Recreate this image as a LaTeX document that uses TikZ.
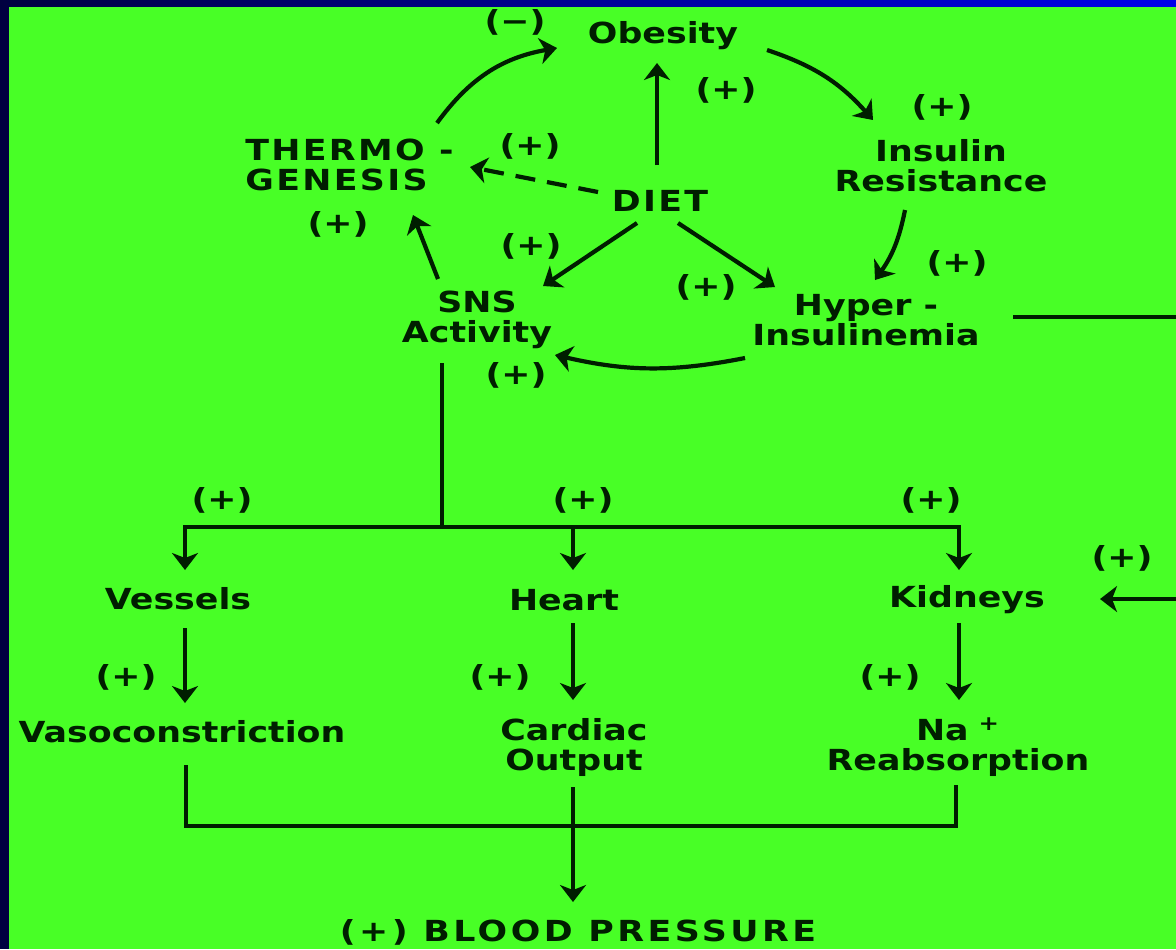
\documentclass[tikz,border=0pt]{standalone}
\usepackage{fontspec}
\setmainfont{DejaVu Sans}[FakeStretch=1.2]
\usetikzlibrary{arrows.meta,calc}
\definecolor{bggreen}{RGB}{72,255,38}
\definecolor{navy}{RGB}{0,0,64}
\definecolor{topblue}{RGB}{0,0,235}
\definecolor{ink}{RGB}{0,30,0}
\begin{document}
\begin{tikzpicture}[x=0.5pt,y=-0.5pt,
  txt/.style={font=\fontsize{14.5pt}{15pt}\selectfont\bfseries, text=ink, inner sep=0pt, align=center},
  lbl/.style={txt},
  caps/.style={txt, font=\fontsize{14.5pt}{15pt}\selectfont\bfseries\addfontfeature{LetterSpace=8}},
  conn/.style={draw=ink, line width=2.1pt},
  arr/.style={conn, -{Stealth[length=8.5pt,width=13pt,inset=2.5pt]}},
]
\useasboundingbox (0,0) rectangle (1176,949);
\fill[bggreen] (0,0) rectangle (1176,949);
\fill[navy] (0,0) rectangle (9,949);
\shade[left color=navy, right color=topblue] (0,0) rectangle (1176,6);

% nodes
\node[txt] (obesity) at (663,36) {Obesity};
\node[lbl] (minus) at (515,22) {(−)};
\node[caps, align=left, anchor=west] (thermo) at (245,165) {THERMO -\\GENESIS};
\node[lbl] (pT) at (530,146) {(+)};
\node[lbl] (pG) at (338,224) {(+)};
\node[caps] (diet) at (660,201) {DIET};
\node[lbl] (pO) at (726,90) {(+)};
\node[lbl] (pI) at (942,107) {(+)};
\node[txt] (insulin) at (941,166) {Insulin\\Resistance};
\node[lbl] (pH) at (957,263) {(+)};
\node[txt] (hyper) at (866,320) {Hyper -\\Insulinemia};
\node[lbl] (pDS) at (531,246) {(+)};
\node[lbl] (pDH) at (706,287) {(+)};
\node[txt] (sns) at (477,320) {SNS\\Activity};
\node[lbl] (pHS) at (516,375) {(+)};
\node[lbl] (pV) at (222,500) {(+)};
\node[lbl] (pHe) at (583,500) {(+)};
\node[lbl] (pK) at (931,500) {(+)};
\node[lbl] (pR) at (1122,558) {(+)};
\node[txt] (vessels) at (178,599) {Vessels};
\node[txt] (heart) at (564,600) {Heart};
\node[txt] (kidneys) at (967,600) {Kidneys};
\node[lbl] (pVC) at (126,677) {(+)};
\node[lbl] (pCO) at (500,677) {(+)};
\node[lbl] (pNa) at (890,677) {(+)};
\node[txt] (vaso) at (182,732) {Vasoconstriction};
\node[txt] (cardiac) at (574,747) {Cardiac\\Output};
\node[txt] (reabs) at (958,747) {Na\hspace{5pt}\textsuperscript{+}\\Reabsorption};
\node[txt, font=\fontsize{14.5pt}{15pt}\selectfont\bfseries\addfontfeature{LetterSpace=12}, anchor=base] (bp) at (578,941) {(+) BLOOD PRESSURE};

% upper connectors
\draw[arr] ($(thermo.west)+(192,-42)$) to[bend left=22] ($(obesity.center)+(-106,12)$);
\draw[arr] ($(diet.center)+(-3,-36)$) -- ($(obesity.center)+(-6,27)$);
\draw[arr, dash pattern=on 10pt off 6pt] ($(diet.center)+(-62,-9)$) -- ($(thermo.west)+(225,2)$);
\draw[arr] ($(sns.center)+(-39,-41)$) -- ($(thermo.west)+(168,50)$);
\draw[arr] ($(diet.center)+(-23,22)$) -- ($(sns.center)+(66,-34)$);
\draw[arr] ($(diet.center)+(18,22)$) -- ($(hyper.center)+(-91,-33)$);
\draw[arr] ($(obesity.center)+(104,14)$) to[bend left=15] ($(insulin.center)+(-68,-46)$);
\draw[arr] ($(insulin.center)+(-36,44)$) to[bend left=12] ($(hyper.center)+(9,-40)$);
\draw[arr] ($(hyper.center)+(-121,38)$) to[bend left=12] ($(sns.center)+(78,35)$);
\draw[arr] ($(hyper.center)+(147,-3)$) -- ++(180,0) |- ($(kidneys.center)+(133,-1)$);

% lower tree
\draw[conn] ($(sns.center)+(-35,43)$) -- ++(0,164) coordinate (j);
\draw[arr] (j) -| ($(vessels.center)+(7,-29)$);
\draw[arr] (j) -| ($(heart.center)+(9,-30)$);
\draw[arr] (j) -| ($(kidneys.center)+(-8,-30)$);
\draw[arr] ($(vessels.center)+(7,29)$) -- ($(vaso.center)+(3,-29)$);
\draw[arr] ($(heart.center)+(9,23)$) -- ($(cardiac.center)+(-1,-47)$);
\draw[arr] ($(kidneys.center)+(-8,23)$) -- ($(reabs.center)+(1,-47)$);
\draw[conn] ($(vaso.center)+(4,33)$) -- ++(0,61) -| ($(reabs.center)+(-2,38)$);
\draw[arr] ($(cardiac.center)+(-1,40)$) -- ($(bp.base)+(-5,-39)$);
\end{tikzpicture}
\end{document}
